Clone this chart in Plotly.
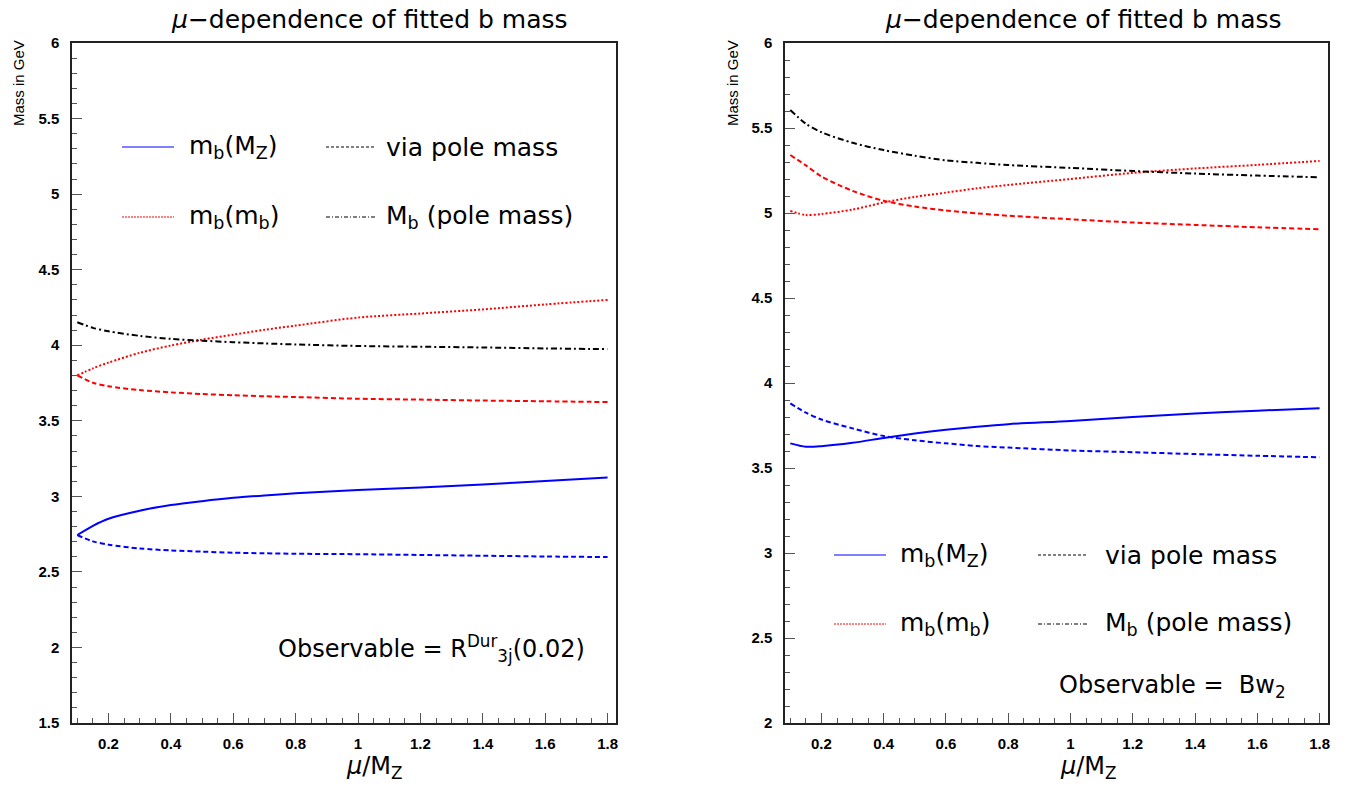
import plotly.graph_objects as go

W, H = 1351, 786

# ---- data ----
mu = [0.1, 0.15, 0.2, 0.3, 0.4, 0.5, 0.6, 0.7, 0.8, 1.0, 1.2, 1.4, 1.6, 1.8]

# left panel: Observable = R3j Dur (0.02)
l_mz = [2.744, 2.805, 2.852, 2.905, 2.942, 2.968, 2.99, 3.006, 3.02, 3.042, 3.058, 3.078, 3.102, 3.125]
l_mz_pole = [2.744, 2.702, 2.68, 2.655, 2.642, 2.634, 2.627, 2.623, 2.62, 2.617, 2.612, 2.607, 2.602, 2.598]
l_mb = [3.80, 3.847, 3.885, 3.95, 3.998, 4.037, 4.07, 4.102, 4.13, 4.183, 4.21, 4.237, 4.27, 4.30]
l_mb_pole = [3.80, 3.752, 3.728, 3.703, 3.688, 3.677, 3.669, 3.662, 3.657, 3.646, 3.64, 3.634, 3.629, 3.624]
l_pole = [4.152, 4.115, 4.092, 4.062, 4.042, 4.03, 4.02, 4.012, 4.005, 3.995, 3.99, 3.985, 3.979, 3.974]

# right panel: Observable = Bw2
r_mz = [3.645, 3.625, 3.628, 3.648, 3.677, 3.703, 3.725, 3.743, 3.758, 3.777, 3.80, 3.82, 3.837, 3.852]
r_mz_pole = [3.88, 3.826, 3.785, 3.733, 3.688, 3.663, 3.645, 3.629, 3.62, 3.603, 3.593, 3.582, 3.572, 3.563]
r_mb = [5.012, 4.988, 4.994, 5.02, 5.062, 5.095, 5.12, 5.145, 5.165, 5.20, 5.236, 5.262, 5.283, 5.306]
r_mb_pole = [5.341, 5.28, 5.215, 5.13, 5.072, 5.038, 5.015, 4.998, 4.984, 4.963, 4.944, 4.93, 4.916, 4.904]
r_pole = [5.606, 5.525, 5.475, 5.413, 5.37, 5.337, 5.31, 5.295, 5.282, 5.265, 5.247, 5.232, 5.22, 5.21]

BLUE = "#0000FF"
RED = "#FF0000"
BLACK = "#000000"
DASH = "5px,3px"
DOT = "2px,2px"
DASHDOT = "6px,3px,2px,3px"
TXT_FONT = "DejaVu Sans"
TICK_FONT = "Liberation Sans"


def px_x(p):
    return p / W


def px_y(p):
    return 1 - p / H


fig = go.Figure()

panels = [
    ("x", "y", l_mz, l_mz_pole, l_mb, l_mb_pole, l_pole),
    ("x2", "y2", r_mz, r_mz_pole, r_mb, r_mb_pole, r_pole),
]
for xa, ya, mz, mz_pole, mb, mb_pole, pole in panels:
    for ys, color, dash in [
        (mz, BLUE, "solid"),
        (mz_pole, BLUE, DASH),
        (mb, RED, DOT),
        (mb_pole, RED, DASH),
        (pole, BLACK, DASHDOT),
    ]:
        fig.add_trace(go.Scatter(
            x=mu, y=ys, mode="lines", xaxis=xa, yaxis=ya,
            line=dict(color=color, width=2, dash=dash, shape="spline", smoothing=0.8),
            showlegend=False, hoverinfo="skip",
        ))

axis_common = dict(
    showline=True, linecolor="#222222", linewidth=1.5, mirror=True,
    showgrid=False, zeroline=False, automargin=False,
    ticks="inside", ticklen=10, tickwidth=1, tickcolor="#555555",
    tickfont=dict(family=TICK_FONT, size=15, color="black", weight="bold"),
)
xaxis_cfg = dict(axis_common, range=[0.083, 1.827], tick0=0.2, dtick=0.2,
                 minor=dict(ticks="inside", ticklen=5, dtick=0.05, tick0=0.1, tickcolor="#555555"),
                 ticklabelstandoff=6)

fig.update_layout(
    width=W, height=H,
    margin=dict(l=0, r=0, t=0, b=0, pad=0, autoexpand=False),
    paper_bgcolor="white", plot_bgcolor="white",
    xaxis=dict(xaxis_cfg, domain=[px_x(72), px_x(616)], anchor="y"),
    xaxis2=dict(xaxis_cfg, domain=[px_x(785), px_x(1328)], anchor="y2"),
    yaxis=dict(axis_common, domain=[px_y(723), px_y(43)], range=[1.5, 6], tick0=1.5, dtick=0.5,
               minor=dict(ticks="inside", ticklen=5, dtick=0.1, tickcolor="#555555"),
               ticklabelstandoff=8, anchor="x"),
    yaxis2=dict(axis_common, domain=[px_y(723), px_y(43)], range=[2, 6], tick0=2, dtick=0.5,
                minor=dict(ticks="inside", ticklen=5, dtick=0.1, tickcolor="#555555"),
                ticklabelstandoff=8, anchor="x2"),
)

annotations = []
shapes = []


def text(x, y, s, size, xanchor="left", angle=0, yanchor="middle", family=TXT_FONT):
    annotations.append(dict(
        x=px_x(x), y=px_y(y), xref="paper", yref="paper", text=s, showarrow=False,
        xanchor=xanchor, yanchor=yanchor, textangle=angle,
        font=dict(family=family, size=size, color="black"),
    ))


def sample(x0, x1, y, color, dash):
    shapes.append(dict(
        type="line", xref="paper", yref="paper",
        x0=px_x(x0), x1=px_x(x1), y0=px_y(y), y1=px_y(y),
        line=dict(color=color, width=1, dash=dash),
    ))


title = "<i>μ</i>−dependence of fitted b mass"
xtitle = "<i>μ</i>/M<sub>Z</sub>"
for dx, rows, obs, obs_y, obs_x in [
    (0, (147, 217), "Observable = R<sup>Dur</sup><sub>3j</sub>(0.02)", 648, 276),
    (714, (555, 624), "Observable =  Bw<sub>2</sub>", 686, 1057),
]:
    text(369 + dx, 19, title, 25, xanchor="center")
    text(374 + dx, 767, xtitle, 24, xanchor="center")
    text(18 + dx, 38, "Mass in GeV", 15, xanchor="center", angle=-90, yanchor="top",
         family="Liberation Sans Narrow, Liberation Sans")
    r1, r2 = rows
    lx = 122 if dx == 0 else 834
    tx = 187 if dx == 0 else 898
    lx2 = 326 if dx == 0 else 1038
    tx2 = 384 if dx == 0 else 1103
    sample(lx, lx + 52, r1, BLUE, "solid")
    sample(lx, lx + 52, r2, RED, "2px,1px")
    sample(lx2, lx2 + 50, r1, BLACK, "3px,2px")
    sample(lx2, lx2 + 50, r2, BLACK, "4px,2px,1px,2px")
    text(tx, r1, "m<sub>b</sub>(M<sub>Z</sub>)", 25)
    text(tx, r2, "m<sub>b</sub>(m<sub>b</sub>)", 25)
    text(tx2, r1, "via pole mass", 25)
    text(tx2, r2, "M<sub>b</sub> (pole mass)", 25)
    text(obs_x, obs_y, obs, 24)

fig.update_layout(annotations=annotations, shapes=shapes)

# drop the default body margin so the figure fills the window exactly
fig.write_html("out.html", config={"displayModeBar": False},
               post_script="document.body.style.margin='0';")
